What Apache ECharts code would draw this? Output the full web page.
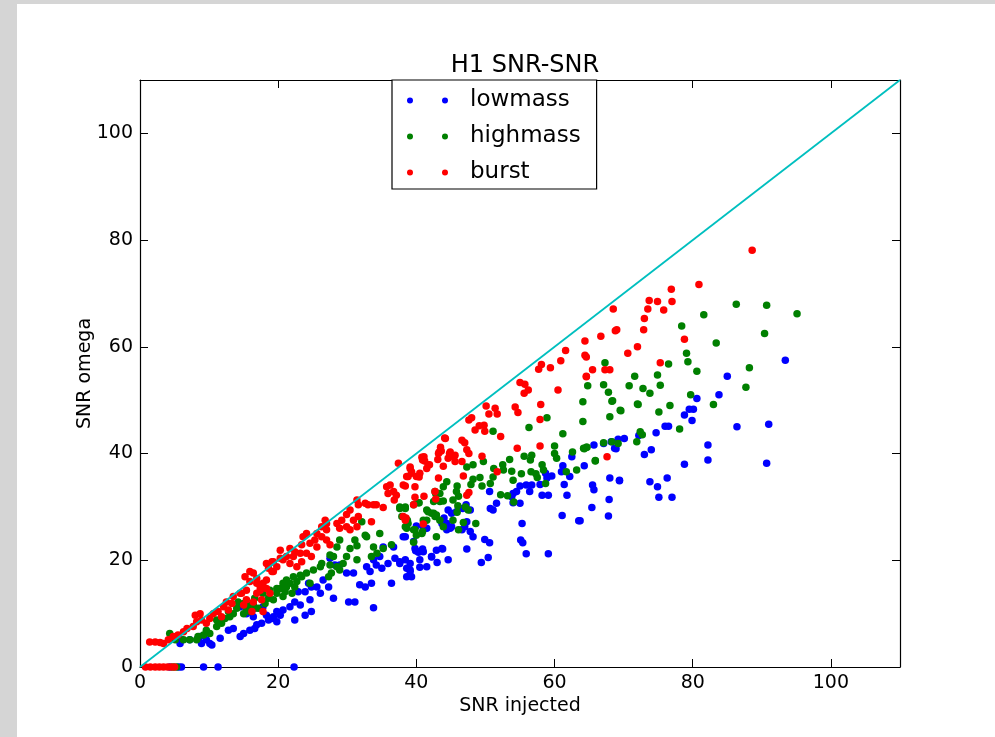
<!DOCTYPE html>
<html>
<head>
<meta charset="utf-8">
<script src="https://cdn.jsdelivr.net/npm/echarts@6/dist/echarts.min.js"></script>
<style>
html,body{margin:0;padding:0;width:995px;height:737px;overflow:hidden;background:#d5d5d5;}
#chart{position:absolute;left:17px;top:4px;width:978px;height:733px;background:#ffffff;}
</style>
</head>
<body>
<div id="chart"></div>
<script>
var titleText = 'H1 SNR-SNR';
var xName = 'SNR injected';
var yName = 'SNR omega';
var seriesNames = ['lowmass', 'highmass', 'burst'];
var axisTicks = [0, 20, 40, 60, 80, 100];
var refLine = [[0, 0], [110, 110]];

var lowmass = [
[4.3,0],[5.6,0],[6.0,0],[9.2,0],[11.3,0],[22.3,0],
[5.8,4.4],[6.0,5.1],[7.2,5.1],[8.4,5.4],[8.7,5.7],[8.9,4.4],[10.1,4.4],[10.4,4.1],[9.6,5.1],[11.6,5.4],[12.8,6.9],[13.5,7.2],[14.5,5.7],[15.0,6.3],[15.9,6.9],[16.9,7.9],[16.6,7.2],[17.6,8.2],[18.6,8.8],[19.1,9.1],[19.8,8.5],[20.3,9.7],[22.4,8.8],[23.9,9.7],[24.8,10.4],
[44.6,29.4],[45.1,26.3],[44.4,25.7],[43.7,26.9],[41.5,26.0],[41.0,26.3],[42.9,21.9],[43.7,22.2],[44.6,20.1],[41.5,18.8],[42.2,20.7],[41.0,21.6],[39.8,22.2],[39.6,23.5],[38.1,24.4],[36.9,20.4],[37.6,19.7],[35.9,19.4],[36.7,22.5],[35.2,22.5],[34.7,20.7],[33.8,20.1],[32.8,18.8],[34.2,19.1],[33.3,17.9],[35.0,18.5],[39.1,19.4],[39.1,17.9],[38.6,16.9],[36.4,15.7],[33.5,15.7],[32.6,15.0],[31.8,15.4],[30.9,17.6],[29.9,17.6],[28.9,19.1],[28.2,19.1],[27.5,20.4],[26.5,16.3],[27.3,15.0],[26.1,13.8],[25.6,15.0],[24.8,15.0],[24.4,15.7],[23.9,14.1],[22.9,14.1],[22.4,12.2],[24.6,12.6],[23.2,11.6],[21.7,11.3],[20.7,10.7],[19.8,10.4],[19.3,9.4],[18.3,9.7],[17.8,11.3],[16.6,11.0],[16.4,9.4],[15.4,10.0],[14.5,11.3],
[33.8,11.1],[30.2,12.2],[31.1,12.2],[28.0,12.9],
[70.1,42.8],[68.2,42.2],[65.7,41.6],[67.1,41.9],[68.7,41.0],[62.5,39.4],[61.2,37.7],[61.0,36.6],[62.2,35.7],[61.4,34.2],[58.7,36.3],[59.6,35.8],[58.9,35.4],[57.9,34.2],[58.2,32.2],[59.1,32.2],[56.7,34.1],[55.9,34.1],[55.0,33.9],[56.4,32.9],[54.5,32.9],[54.0,32.5],[53.8,31.9],[55.0,30.7],[54.0,30.8],[50.6,32.9],[51.6,30.7],[50.7,29.7],[51.1,29.4],[61.8,32.2],[65.5,34.1],[65.7,33.2],[67.9,31.4],[65.4,29.9],[67.8,28.3],[69.4,34.9],[68.0,35.4],[61.1,28.4],[63.5,27.4],[55.3,26.9],[55.1,23.8],[55.4,23.3],[55.9,21.2],[59.1,21.2],[47.2,30.4],[47.8,29.4],[46.7,29.7],[45.8,29.1],[45.1,28.8],[47.3,27.2],[47.0,26.3],[46.6,25.7],[47.8,25.4],[48.2,24.4],[44.4,26.9],[44.9,26.0],[44.0,27.9],[49.9,23.9],[50.6,23.3],[47.3,22.1],[43.8,22.1],[50.4,20.5],[49.4,19.6],[39.9,21.8],[40.9,22.1],[40.3,21.5],[42.2,20.6],[43.0,19.6],[40.5,20.1],[40.5,18.7],[38.4,24.4],[40.0,26.4],[41.3,26.0],[37.6,19.4],[38.4,20.1],[38.6,18.5],[39.1,18.2],[39.3,16.9],
[93.4,57.5],[85.0,54.5],[83.8,51.0],[80.6,50.3],[79.5,48.3],[80.1,48.3],[78.8,47.2],[79.9,46.2],[86.4,45.0],[91.0,45.5],[76.0,45.1],[76.5,45.1],[74.7,43.9],[72.2,43.4],[69.2,42.7],[68.9,40.9],[82.2,41.6],[82.2,38.8],[74.0,40.7],[73.0,39.8],[78.8,38.0],[90.7,38.2],[64.3,37.7],[69.4,35.0],[76.3,35.4],[73.8,34.7],[74.9,33.8],[75.1,31.8],[77.0,31.8],[63.7,27.4]
];

var highmass = [
[4.8,0],[5.3,0],
[4.3,6.3],[4.6,5.4],[5.1,5.1],[6.3,5.1],[7.2,5.1],[8.2,5.1],[8.4,5.7],[9.2,6.0],[10.1,6.3],[9.6,6.9],[11.1,7.6],[11.8,8.2],[11.1,8.8],[12.3,9.1],[13.0,9.4],[13.5,10.0],[12.8,10.4],[14.2,12.2],[14.0,11.0],[15.0,11.9],[15.9,11.6],[16.4,11.0],[15.4,10.7],[16.6,12.9],[17.8,13.8],[18.8,14.4],[19.8,14.7],[20.7,15.7],[21.2,16.3],[22.2,16.9],[23.2,17.2],[24.1,17.6],[25.1,18.2],[26.1,18.8],[27.5,19.1],
[44.4,34.7],[43.9,33.8],[43.4,32.5],[45.8,32.9],[45.3,31.3],[42.7,32.9],[42.5,31.0],[43.4,31.0],[41.5,29.4],[42.2,28.8],[42.7,28.2],[43.4,27.5],[41.0,27.5],[43.9,26.3],[45.3,27.5],[46.1,25.7],[37.6,29.7],[38.4,30.0],[39.6,30.4],[40.3,30.8],[38.8,26.9],[38.6,26.0],[39.6,25.7],[40.8,25.0],[40.0,24.7],[32.1,27.2],[32.6,24.7],[32.8,24.4],[34.7,25.0],[35.2,22.2],[34.3,21.3],[36.4,22.9],[33.8,22.5],[33.5,20.7],[31.1,23.8],[31.4,22.7],[30.4,22.2],[29.9,20.7],[31.4,20.1],[28.9,23.8],[28.5,22.5],[28.0,20.7],[29.4,19.4],[28.5,18.8],[28.9,18.2],[27.7,17.6],[27.3,16.9],[26.3,19.4],[27.5,21.0],[23.4,16.9],[24.6,15.7],[22.7,16.0],[21.7,15.7],[22.4,15.0],[21.2,15.0],[20.3,14.7],[21.0,14.1],[22.0,13.8],[20.7,13.2],[19.8,13.8],[19.3,12.6],[18.6,12.9],[18.1,11.9],[16.4,11.6],[15.4,11.6],[17.1,11.0],[15.9,10.4],[15.0,10.0],
[67.3,57.0],[64.8,52.7],[67.1,52.9],[67.8,51.5],[70.8,52.7],[68.4,49.9],[69.5,48.1],[64.1,49.7],[64.1,46.0],[68.0,46.9],[72.0,49.3],[58.9,46.7],[56.3,44.9],[61.2,43.7],[51.1,44.2],[60.0,41.4],[60.0,40.0],[60.3,39.1],[64.2,41.0],[64.6,41.2],[62.6,40.3],[65.9,38.6],[55.6,39.5],[56.7,39.7],[56.5,38.8],[53.5,38.9],[52.5,37.9],[52.6,36.9],[53.8,36.7],[54.0,35.0],[51.2,37.2],[51.1,35.6],[49.7,38.5],[48.2,37.9],[47.3,37.5],[49.2,35.5],[50.7,34.4],[48.2,35.2],[47.9,34.2],[49.5,33.9],[55.2,36.2],[57.3,36.2],[57.5,35.5],[58.2,37.9],[58.4,36.9],[58.7,34.4],[56.6,36.6],[61.7,36.6],[63.2,36.9],[45.9,33.9],[46.1,32.0],[43.9,31.1],[42.8,32.5],[52.2,32.3],[53.2,32.1],[54.1,30.9],[46.0,30.2],[45.9,29.0],[47.1,30.0],[47.5,29.4],[48.6,26.9],[46.8,27.1],[41.7,29.1],[42.5,28.8],[42.9,28.5],[40.4,30.8],[37.6,30.0],[38.4,29.7],[37.9,28.2],[38.7,27.5],[38.4,26.3],[39.8,25.7],[40.9,25.4],[41.5,27.5],[42.9,24.4],[39.6,23.4],
[86.3,68.0],[90.7,67.8],[95.1,66.2],[81.6,66.0],[78.4,63.9],[90.4,62.5],[83.4,60.7],[79.1,58.8],[79.3,57.2],[76.5,56.8],[80.6,55.4],[88.2,56.1],[71.6,54.5],[74.9,54.7],[75.3,52.8],[72.8,52.2],[73.8,51.3],[87.7,52.4],[68.3,49.8],[79.7,51.0],[83.0,49.2],[72.1,49.2],[76.7,49.0],[69.6,48.0],[75.1,47.8],[78.1,44.6],[72.4,44.1],[72.7,43.5],[71.9,42.2],[68.3,42.2],[69.2,41.9],[67.1,42.0],[64.3,40.9],[64.7,41.2],[65.9,38.7]
];

var burst = [
[0.8,0],[1.5,0],[2.2,0],[2.8,0],[3.4,0],[4.0,0],[4.5,0],[5.0,0],
[1.4,4.7],[2.2,4.7],[2.9,4.6],[3.4,4.4],[4.1,5.1],[4.8,5.7],[5.5,6.0],[6.3,6.6],[6.8,7.2],[7.7,7.6],[8.2,8.5],[8.0,9.7],[8.7,10.0],[8.9,8.8],[9.6,8.2],[10.1,9.1],[10.6,10.0],[11.3,10.4],[11.8,9.4],[12.1,11.3],[12.5,12.2],[13.3,11.9],[12.8,10.7],[13.5,13.2],[14.5,13.8],[15.4,14.4],[15.9,16.0],[15.2,16.9],[16.4,17.6],[16.9,15.7],[17.4,15.0],[18.3,16.3],[19.1,17.9],[19.8,18.8],[19.3,19.7],[20.3,20.4],[18.3,19.4],
[44.1,42.9],[43.6,40.5],[43.2,40.0],[44.9,40.3],[45.6,39.7],[41.1,39.4],[40.9,38.8],[41.7,37.9],[41.5,37.2],[40.5,36.3],[39.1,37.2],[39.3,36.3],[37.4,38.2],[38.6,35.7],[38.1,34.1],[40.0,35.7],[35.7,33.8],[36.2,34.1],[36.7,32.9],[37.1,32.2],[36.8,31.3],[35.9,32.5],[31.4,31.3],[31.6,30.4],[32.6,30.7],[33.0,30.4],[33.8,30.4],[34.2,30.4],[35.2,29.9],[38.1,28.2],[38.4,27.5],[31.6,28.2],[30.9,27.5],[33.5,27.2],[30.4,29.4],[29.9,28.6],[29.2,27.5],[28.5,26.9],[28.9,26.0],[29.9,26.3],[30.4,25.7],[31.4,26.3],[26.8,27.5],[27.0,26.9],[26.3,26.3],[27.0,25.7],[25.6,25.0],[26.3,24.4],[25.3,23.8],[24.1,25.0],[23.6,24.4],[24.6,23.2],[23.4,22.9],[27.0,23.8],[25.6,22.5],[27.5,22.9],[21.7,22.2],[22.4,21.6],[23.2,21.3],[22.2,20.7],[24.1,21.3],[24.8,20.7],[23.4,19.7],[21.2,20.7],[20.3,21.9],[20.7,20.1],[21.7,19.4],[22.7,18.8],[19.1,19.7],[18.6,18.5],[19.3,17.9],[15.9,17.9],[16.9,16.6],[17.8,15.7],[17.4,14.4],[18.3,14.7],[16.9,13.8],[18.8,13.8],[17.6,12.6],[16.4,12.2],[15.4,12.6],[14.7,13.8],[15.0,11.6],[16.2,10.4],[17.8,10.4],
[72.0,60.0],[61.6,59.3],[60.9,57.4],[58.1,56.7],[57.7,55.8],[59.4,56.1],[64.6,54.4],[55.0,53.3],[55.7,53.0],[56.2,51.9],[55.6,51.3],[60.5,51.9],[58.0,49.2],[57.9,46.4],[54.3,48.7],[54.7,47.7],[50.1,48.9],[51.4,48.5],[51.7,47.4],[50.5,47.4],[48.0,46.7],[47.6,46.3],[49.1,45.2],[49.8,45.3],[49.9,44.2],[48.5,44.4],[52.2,43.2],[44.2,42.8],[46.6,42.5],[47.0,42.0],[43.5,41.2],[43.3,40.3],[44.8,40.0],[45.4,39.4],[44.6,39.1],[47.3,40.7],[47.6,40.0],[40.8,39.3],[41.2,38.6],[41.9,37.9],[43.1,38.9],[43.9,37.6],[45.6,38.5],[46.6,38.5],[49.5,39.5],[54.6,41.0],[57.9,41.4],[39.1,37.5],[39.3,36.6],[38.8,35.7],[40.4,35.6],[39.8,33.8],[38.4,33.9],[43.2,35.4],[46.8,35.8],[51.7,36.6],[47.6,32.7],[47.3,32.2],[41.1,32.0],[39.8,31.8],[42.7,32.9],[42.8,31.5],[39.6,30.4],[38.5,27.9],[41.0,26.8],
[88.6,78.1],[80.9,71.7],[76.9,70.8],[77.0,68.5],[73.7,68.7],[74.9,68.5],[73.5,67.1],[75.8,66.9],[68.5,67.1],[73.0,65.3],[72.9,63.2],[69.0,63.2],[68.8,63.0],[66.7,62.0],[64.4,61.1],[70.6,58.8],[64.4,58.4],[64.6,58.1],[78.8,61.4],[75.3,57.0],[65.5,55.7],[67.3,55.7],[68.0,55.7],[64.6,54.5],[67.6,39.4]
];

var FONT = 'DejaVu Sans';
var chart = echarts.init(document.getElementById('chart'), null, {renderer: 'canvas'});

function baseAxis(extra) {
  var a = {
    type: 'value', min: 0, max: 110, interval: 20,
    splitLine: {show: false},
    axisLine: {show: true, onZero: false, lineStyle: {color: '#000', width: 1.2}},
    axisTick: {show: true, inside: true, length: 8, lineStyle: {color: '#000', width: 1}},
    axisLabel: {show: true, color: '#000', fontFamily: FONT, fontSize: 19, margin: 7, showMaxLabel: false,
      formatter: function (v) { return axisTicks.indexOf(v) >= 0 ? String(v) : ''; }}
  };
  for (var k in extra) a[k] = extra[k];
  return a;
}

var dotIcon = 'path://M0,3a3,3 0 1,0 6,0a3,3 0 1,0 -6,0M35,3a3,3 0 1,0 6,0a3,3 0 1,0 -6,0';

var option = {
  animation: false,
  backgroundColor: '#ffffff',
  title: {
    text: titleText, left: 503, top: 45, textAlign: 'center',
    textStyle: {fontFamily: FONT, fontSize: 24, fontWeight: 'normal', color: '#000'}
  },
  legend: {
    data: seriesNames.map(function (n) { return {name: n, icon: dotIcon}; }),
    orient: 'vertical', left: 375, top: 76,
    itemWidth: 41, itemHeight: 6, itemGap: 13,
    padding: [9, 16, 5, 15],
    backgroundColor: '#ffffff', borderColor: '#000', borderWidth: 1.2, borderRadius: 0,
    textStyle: {fontFamily: FONT, fontSize: 23, color: '#000', padding: [0, 0, 0, 17]}
  },
  grid: {left: 123, top: 76, right: 95, bottom: 70, containLabel: false},
  xAxis: [
    baseAxis({position: 'bottom', name: xName, nameLocation: 'middle', nameGap: 30, nameMoveOverlap: false,
      nameTextStyle: {fontFamily: FONT, fontSize: 19, color: '#000'}}),
    baseAxis({position: 'top', axisLabel: {show: false}})
  ],
  yAxis: [
    baseAxis({position: 'left', name: yName, nameLocation: 'middle', nameGap: 45, nameMoveOverlap: false,
      nameTextStyle: {fontFamily: FONT, fontSize: 19, color: '#000'}}),
    baseAxis({position: 'right', axisLabel: {show: false}})
  ],
  series: [
    {name: seriesNames[0], type: 'scatter', data: lowmass, symbolSize: 7.5, itemStyle: {color: '#0000ff', opacity: 1}, z: 2},
    {name: seriesNames[1], type: 'scatter', data: highmass, symbolSize: 7.5, itemStyle: {color: '#008000', opacity: 1}, z: 3},
    {name: seriesNames[2], type: 'scatter', data: burst, symbolSize: 7.5, itemStyle: {color: '#ff0000', opacity: 1}, z: 4},
    {name: 'diag', type: 'line', data: refLine, showSymbol: false, symbol: 'none', silent: true,
      lineStyle: {color: '#00bfbf', width: 1.8}, itemStyle: {color: '#00bfbf'}, z: 5}
  ]
};
chart.setOption(option);
</script>
</body>
</html>
